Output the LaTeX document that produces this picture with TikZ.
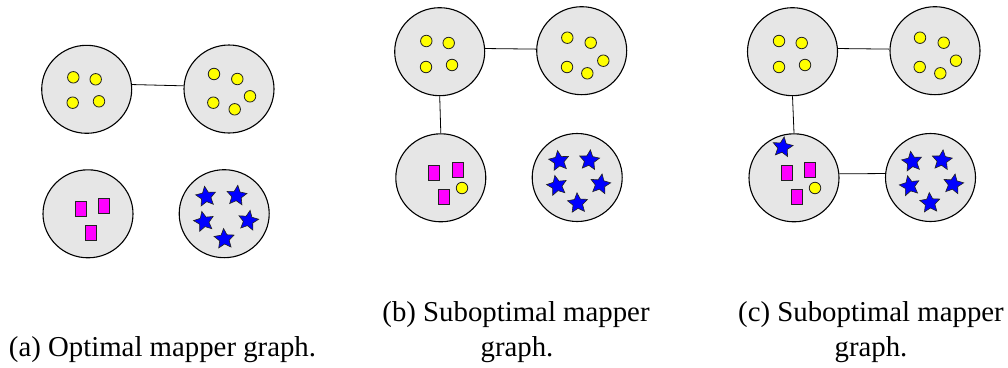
\documentclass[tikz,border=0pt]{standalone}
\usepackage{fontspec}
\setmainfont{Liberation Serif}
\usetikzlibrary{shapes.geometric}
\definecolor{clustergray}{RGB}{230,230,230}
\definecolor{outl}{RGB}{34,34,34}
\definecolor{dotyellow}{RGB}{255,255,0}
\definecolor{boxmagenta}{RGB}{255,0,255}
\definecolor{starblue}{RGB}{0,0,255}
\begin{document}
\begin{tikzpicture}[x=1pt,y=-1pt,
 cluster/.style={ellipse,draw=black,line width=1.1pt,fill=clustergray,minimum width=90pt,minimum height=88pt,inner sep=0pt},
 dot/.style={circle,draw=outl,line width=0.8pt,fill=dotyellow,minimum size=11.5pt,inner sep=0pt},
 box/.style={rectangle,draw=outl,line width=0.9pt,fill=boxmagenta,minimum width=11pt,minimum height=15pt,inner sep=0pt},
 starm/.style={star,star points=5,star point ratio=2.1,draw=outl,line width=0.6pt,fill=starblue,minimum size=21pt,inner sep=0pt},
 link/.style={draw=black,line width=0.8pt},
 captext/.style={font=\fontsize{28.8}{35}\selectfont,anchor=base,inner sep=0pt}
]
\useasboundingbox (0,0) rectangle (1008,367);

% ---------- (a) ----------
\node[cluster] (a1) at (86.7,89.3) {};
\node[cluster] (a2) at (229,89) {};
\node[cluster] (a3) at (88,213.8) {};
\node[cluster] (a4) at (224.2,213.7) {};
\draw[link] (a1.6) -- (a2.176);
\node[dot] (a1d1) at (73.3,77.3) {};
\node[dot] (a1d2) at (95.7,79.3) {};
\node[dot] (a1d3) at (72.7,102.7) {};
\node[dot] (a1d4) at (99,101.3) {};
\node[dot] (a2d1) at (214,74) {};
\node[dot] (a2d2) at (237.3,79) {};
\node[dot] (a2d3) at (213.3,102.7) {};
\node[dot] (a2d4) at (234.7,109.3) {};
\node[dot] (a2d5) at (250,96.3) {};
\node[box] (a3b1) at (81.3,209.2) {};
\node[box] (a3b2) at (104,205.5) {};
\node[box] (a3b3) at (90.7,233.3) {};
\node[starm,rotate=8] (a4s1) at (206,196.7) {};
\node[starm,rotate=-6] (a4s2) at (236.7,195.7) {};
\node[starm,rotate=12] (a4s3) at (204,221.7) {};
\node[starm,rotate=-10] (a4s4) at (248.3,220.7) {};
\node[starm,rotate=4] (a4s5) at (224.3,239) {};

% ---------- (b) ----------
\node[cluster] (b1) at (439.7,51.7) {};
\node[cluster] (b2) at (581.7,50.7) {};
\node[cluster] (b3) at (440.8,177.8) {};
\node[cluster] (b4) at (577.2,177.5) {};
\draw[link] (b1.4) -- (b2.178);
\draw[link] (b1.south) -- (b3.north);
\node[dot] (b1d1) at (426.3,41) {};
\node[dot] (b1d2) at (448.7,43) {};
\node[dot] (b1d3) at (426,67) {};
\node[dot] (b1d4) at (452,65) {};
\node[dot] (b2d1) at (567.3,37.7) {};
\node[dot] (b2d2) at (590.7,42.7) {};
\node[dot] (b2d3) at (567,67) {};
\node[dot] (b2d4) at (587.3,73.3) {};
\node[dot] (b2d5) at (603.3,60.7) {};
\node[box] (b3b1) at (434,173.3) {};
\node[box] (b3b2) at (457.7,170) {};
\node[box] (b3b3) at (443.7,197.3) {};
\node[dot] (b3d1) at (462,188) {};
\node[starm,rotate=8] (b4s1) at (559,161) {};
\node[starm,rotate=-6] (b4s2) at (589.3,160.3) {};
\node[starm,rotate=12] (b4s3) at (557,185.7) {};
\node[starm,rotate=-10] (b4s4) at (600.3,184.3) {};
\node[starm,rotate=4] (b4s5) at (577.7,203.3) {};

% ---------- (c) ----------
\node[cluster] (c1) at (792.5,51.7) {};
\node[cluster] (c2) at (935,50.7) {};
\node[cluster] (c3) at (794,177.8) {};
\node[cluster] (c4) at (930.5,177.5) {};
\draw[link] (c1.4) -- (c2.178);
\draw[link] (c1.south) -- (c3.north);
\draw[link] (c3.5) -- (c4.175);
\node[dot] (c1d1) at (779,41) {};
\node[dot] (c1d2) at (801.7,43) {};
\node[dot] (c1d3) at (779,67) {};
\node[dot] (c1d4) at (805,65) {};
\node[dot] (c2d1) at (920,37.7) {};
\node[dot] (c2d2) at (943.7,42.7) {};
\node[dot] (c2d3) at (919.7,67) {};
\node[dot] (c2d4) at (940.3,73.3) {};
\node[dot] (c2d5) at (956,60.7) {};
\node[starm,rotate=-8] (c3s1) at (782.7,147.3) {};
\node[box] (c3b1) at (787.3,173.3) {};
\node[box] (c3b2) at (810.3,169.7) {};
\node[box] (c3b3) at (796.7,197.3) {};
\node[dot] (c3d1) at (815,188) {};
\node[starm,rotate=8] (c4s1) at (912,161.7) {};
\node[starm,rotate=-6] (c4s2) at (942,160.3) {};
\node[starm,rotate=12] (c4s3) at (909.7,186) {};
\node[starm,rotate=-10] (c4s4) at (953.3,184.3) {};
\node[starm,rotate=4] (c4s5) at (930,203) {};

% ---------- captions ----------
\node[captext] (capa) at (162.5,356.7) {(a) Optimal mapper graph.};
\node[captext] (capb1) at (516,321.7) {(b) Suboptimal mapper};
\node[captext] (capb2) at (517,356.7) {graph.};
\node[captext] (capc1) at (871,321.7) {(c) Suboptimal mapper};
\node[captext] (capc2) at (871,356.7) {graph.};
\end{tikzpicture}
\end{document}
